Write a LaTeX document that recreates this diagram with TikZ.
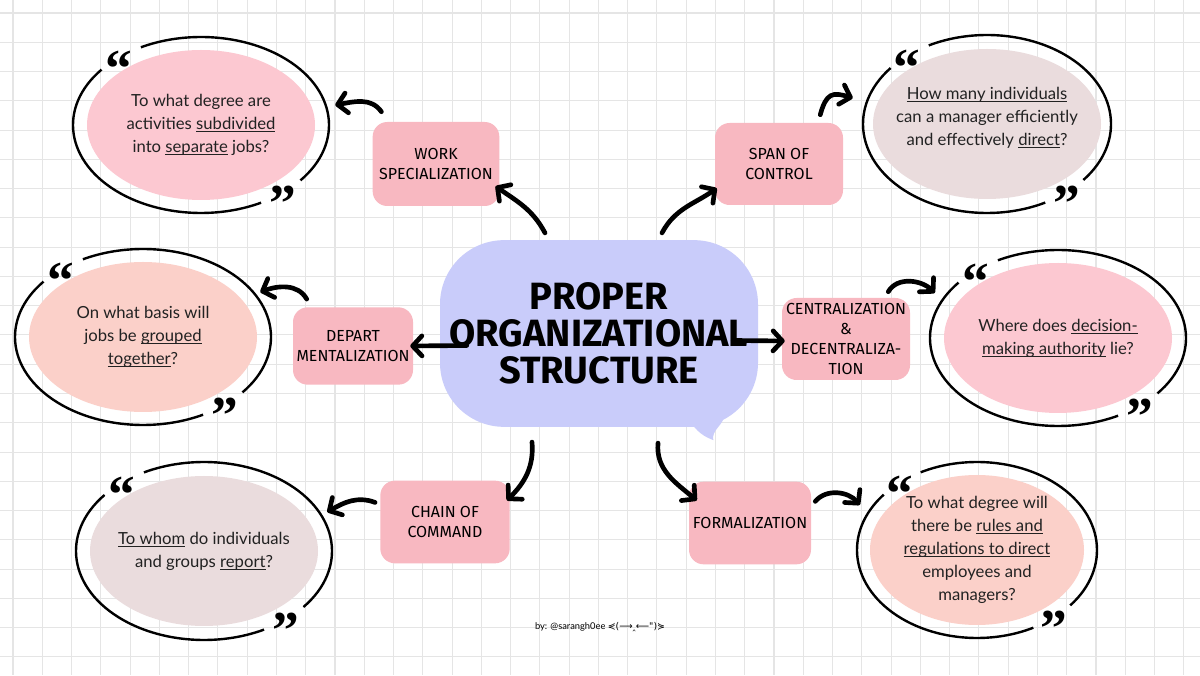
\documentclass[tikz,border=0pt]{standalone}
\usepackage{fontspec}
\setmainfont{Lato}
\newfontfamily\headfont{Fira Sans}
\newfontfamily\quotefont{Liberation Serif}
\newfontfamily\symfont{DejaVu Sans}
\usetikzlibrary{shapes.geometric,arrows.meta,calc}
\newcommand\uln[1]{\underline{\smash{#1}}}
\definecolor{bubblecol}{HTML}{C9CCFA}
\definecolor{boxpink}{HTML}{F8B8C1}
\definecolor{softpink}{HTML}{FCC8D1}
\definecolor{mauve}{HTML}{EADCDD}
\definecolor{peach}{HTML}{FBD0C9}
\definecolor{gridgray}{HTML}{E5E5E5}
\definecolor{ink}{HTML}{222222}

\begin{document}
\begin{tikzpicture}[x=0.75pt,y=0.75pt,
gridline/.style={gridgray,line width=0.8pt},
bubble/.style={rectangle,rounded corners=48pt,fill=bubblecol,inner sep=0pt,minimum width=238.5pt,minimum height=140pt,align=center,font=\headfont\bfseries\fontsize{28.5}{27.5}\selectfont},
topic/.style={rectangle,rounded corners=11pt,fill=boxpink,inner sep=0pt,align=center,font=\headfont\fontsize{12}{15}\selectfont},
ask/.style={ellipse,inner xsep=-45pt,inner ysep=-25pt,minimum width=171pt,minimum height=112.5pt,align=center,text=ink,font=\fontsize{12.5}{17.25}\selectfont},
ringline/.style={line width=1.8pt},
quotemark/.style={inner sep=0pt,yshift=-22pt,font=\quotefont\bfseries\fontsize{40}{40}\selectfont},
link/.style={line width=3.5pt,line cap=round,-{Straight Barb[length=7pt,width=15pt,round]}}
]
\useasboundingbox (0,0) rectangle (1200,675);
\fill[white] (0,0) rectangle (1200,675);
\foreach \k in {0,...,40} \draw[gridline] ({13+29.27*\k},0) -- ({13+29.27*\k},675);
\foreach \k in {0,...,22} \draw[gridline] (0,{662-29.27*\k}) -- (1200,{662-29.27*\k});

\node[bubble] (core) at (599,341.5) {PROPER\\ORGANIZATIONAL\\STRUCTURE};
\fill[bubblecol] ($(core.south east)+(-72,12)$) to[out=-60,in=160] ($(core.south east)+(-45,-13)$) to[out=100,in=-95] ($(core.south east)+(-34,12)$) -- cycle;

\node[topic,minimum width=95pt,minimum height=63pt] (work) at (436,511) {WORK\\SPECIALIZATION};
\node[topic,minimum width=96pt,minimum height=61.5pt] (span) at (779,511) {SPAN OF\\CONTROL};
\node[topic,minimum width=96pt,minimum height=61.5pt] (central) at (846,336) {CENTRALIZATION\\\&\\DECENTRALIZA-\\TION};
\node[topic,minimum width=90pt,minimum height=58pt] (depart) at (353,329) {DEPART\\MENTALIZATION};
\node[topic,minimum width=97pt,minimum height=62pt] (chain) at (445,153) {CHAIN OF\\COMMAND};
\node[topic,minimum width=91.5pt,minimum height=62pt] (formal) at (750,152) {FORMALIZATION};

\node[ask,fill=softpink] (qwork) at (201,550) {To what degree are\\activities \uln{subdivided}\\into \uln{separate} jobs?};
\node[ask,fill=mauve] (qspan) at (987,551) {\uln{How many individuals}\\can a manager efficiently\\and effectively \uln{direct}?};
\node[ask,fill=softpink] (qcentral) at (1058,337) {Where does \uln{decision-}\\\uln{making authority} lie?};
\node[ask,fill=peach] (qdepart) at (143,338) {On what basis will\\jobs be \uln{grouped}\\\uln{together}?};
\node[ask,fill=mauve] (qchain) at (204,124) {\uln{To whom} do individuals\\and groups \uln{report}?};
\node[ask,fill=peach,minimum width=160.5pt] (qformal) at (977,125) {To what degree will\\there be \uln{rules and}\\\uln{regulations to direct}\\employees and\\managers?};

\foreach \q/\rx/\ry in {qwork/128/88,qspan/124/89,qcentral/128/88,qdepart/128/88,qchain/128/89,qformal/120/88} {
  \draw[ringline] ($(\q.center)+({\rx*cos(-39)},{\ry*sin(-39)})$) arc[start angle=-39,end angle=118,x radius=\rx,y radius=\ry];
  \draw[ringline] ($(\q.center)+({\rx*cos(141)},{\ry*sin(141)})$) arc[start angle=141,end angle=298,x radius=\rx,y radius=\ry];
  \node[quotemark] (\q-open) at ($(\q.center)+({\rx*cos(130)},{\ry*sin(130)})$) {\smash{“}};
  \node[quotemark] (\q-close) at ($(\q.center)+({\rx*cos(-50)},{\ry*sin(-50)})$) {\smash{”}};
}

\draw[link] ($(core.north)+(-54,7)$) to[out=118,in=-35] ($(work.south east)+(-4,20)$);
\draw[link] ($(work.north west)+(9,10)$) to[out=125,in=10] ($(qwork.east)+(20,20)$);
\draw[link] ($(core.north)+(63,7)$) to[out=62,in=-145] ($(span.south west)+(2,17)$);
\draw[link] ($(span.north east)+(-23,8)$) .. controls +(6,22) and +(-20,6) .. ($(qspan.west)+(-20,26)$);
\draw[link] ($(core.east)+(-25,-7)$) -- ($(central.west)+(3,-2)$);
\draw[link] ($(central.north east)+(-22,6)$) to[out=60,in=135] ($(qcentral.west)+(-9,45)$);
\draw[link] ($(core.west)+(27,-12)$) -- ($(depart.east)+(-3,0)$);
\draw[link] ($(depart.north west)+(14,8)$) to[out=120,in=20] ($(qdepart.east)+(3,45)$);
\draw[link] ($(core.south)+(-67,-15)$) to[out=-85,in=45] ($(chain.north east)+(-3,-20)$);
\draw[link] ($(chain.north west)+(-5,-22)$) to[out=160,in=30] ($(qchain.east)+(9,39)$);
\draw[link] ($(core.south)+(59,-16)$) to[out=-95,in=140] ($(formal.north west)+(8,-19)$);
\draw[link] ($(formal.north east)+(4,-20)$) to[out=50,in=130] ($(qformal.west)+(-10,45)$);

\node[font=\fontsize{7}{8}\selectfont] (credit) at (600,48) {by: @sarangh0ee {\symfont ⋞(⟶‸⟵")⋟}};
\end{tikzpicture}
\end{document}
